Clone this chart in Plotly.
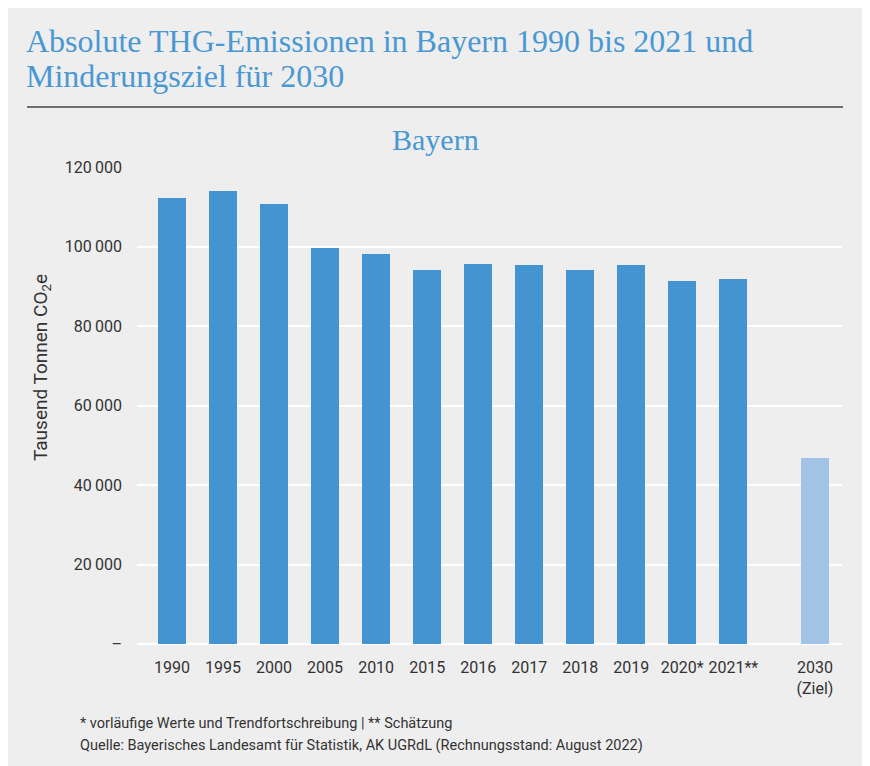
import plotly.graph_objects as go

# Daten (Tausend Tonnen CO2e)
years = ["1990", "1995", "2000", "2005", "2010", "2015", "2016",
         "2017", "2018", "2019", "2020*", "2021**"]
emissions = [112100, 113900, 110800, 99500, 98000, 94000, 95700,
             95400, 94000, 95400, 91200, 91900]
target_label = "2030<br>(Ziel)"
target_value = 46700

y_ticks = [0, 20000, 40000, 60000, 80000, 100000, 120000]
y_ticktext = ["–" if v == 0 else f"{v:,}".replace(",", "\u2009") for v in y_ticks]

COLORS = {
    "bar": "#4394D0",
    "target": "#A3C3E6",
    "title": "#4A98D3",
    "bg": "#EEEEEE",
    "text": "#333333",
}

# the page body adds an 8px margin; positions below are given in window pixels
OFF = 8
W, H = 860, 758
L, R, T, B = 137 - OFF, 26, 167 - OFF, 122
SERIF = "Georgia, 'Liberation Serif', 'DejaVu Serif', serif"
NARROW = "'Liberation Sans Narrow', 'Arial Narrow', 'Roboto', sans-serif"


def px(x):
    return (x - OFF - L) / (W - L - R)


def py(y):
    return (H - B - (y - OFF)) / (H - T - B)


# bar positions: index for each year, the 2030 target after a small gap
pos = list(range(len(years)))
target_pos = len(years) - 1 + 1.6

fig = go.Figure()
fig.add_trace(go.Bar(
    x=pos, y=emissions, width=0.55,
    marker=dict(color=COLORS["bar"], line=dict(width=0)),
    hovertemplate="%{y:,}<extra></extra>",
))
fig.add_trace(go.Bar(
    x=[target_pos], y=[target_value], width=0.55,
    marker=dict(color=COLORS["target"], line=dict(width=0)),
    hovertemplate="%{y:,}<extra></extra>",
))

fig.update_layout(
    width=W, height=H,
    margin=dict(l=L, r=R, t=T, b=B, autoexpand=False),
    paper_bgcolor=COLORS["bg"],
    plot_bgcolor=COLORS["bg"],
    showlegend=False,
    bargap=0,
    font=dict(family=NARROW, color=COLORS["text"], size=16),
)
fig.update_xaxes(
    range=[-0.686, target_pos + 0.53],
    tickvals=pos + [target_pos],
    ticktext=years + [target_label],
    tickangle=0, automargin=False,
    showgrid=False, zeroline=False, showline=False,
    ticks="", ticklabelstandoff=12,
    tickfont=dict(family=NARROW, size=16, color=COLORS["text"]),
)
fig.update_yaxes(
    range=[0, 120000],
    tickvals=y_ticks, ticktext=y_ticktext, automargin=False,
    showgrid=True, gridcolor="white", gridwidth=2,
    zeroline=True, zerolinecolor="white", zerolinewidth=2,
    showline=False, ticks="", ticklabelstandoff=14,
    tickfont=dict(family=NARROW, size=16, color=COLORS["text"]),
)

# rule under the headline
fig.add_shape(type="line", xref="paper", yref="paper",
              x0=px(27), x1=px(843), y0=py(107), y1=py(107),
              line=dict(color="#444444", width=1.5))

annotations = [
    dict(text="Absolute THG-Emissionen in Bayern 1990 bis 2021 und",
         x=px(24), y=py(41), xanchor="left", yanchor="middle",
         font=dict(family=SERIF, size=32, color=COLORS["title"])),
    dict(text="Minderungsziel für 2030",
         x=px(24), y=py(76), xanchor="left", yanchor="middle",
         font=dict(family=SERIF, size=32, color=COLORS["title"])),
    dict(text="Bayern",
         x=px(435), y=py(139), xanchor="center", yanchor="middle",
         font=dict(family=SERIF, size=30, color=COLORS["title"])),
    dict(text="Tausend Tonnen CO<sub>2</sub>e", textangle=-90,
         x=px(41), y=py(368), xanchor="center", yanchor="middle",
         font=dict(family=NARROW, size=19, color=COLORS["text"])),
    dict(text="* vorläufige Werte und Trendfortschreibung | ** Schätzung",
         x=px(78), y=py(723), xanchor="left", yanchor="middle",
         font=dict(family=NARROW, size=14.5, color=COLORS["text"])),
    dict(text="Quelle: Bayerisches Landesamt für Statistik, AK UGRdL (Rechnungsstand: August 2022)",
         x=px(78), y=py(745), xanchor="left", yanchor="middle",
         font=dict(family=NARROW, size=14.5, color=COLORS["text"])),
]
for a in annotations:
    fig.add_annotation(xref="paper", yref="paper", showarrow=False, **a)

fig.write_html("out.html")
